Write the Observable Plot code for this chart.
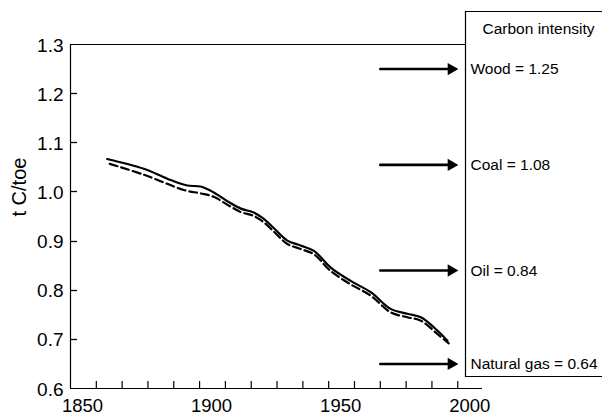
<!DOCTYPE html>
<html>
<head>
<meta charset="utf-8">
<script src="https://cdn.jsdelivr.net/npm/d3@7"></script>
<script src="https://cdn.jsdelivr.net/npm/@observablehq/plot@0.6"></script>
<style>
  html, body { margin: 0; padding: 0; background: #fff; }
  svg { font-family: "Liberation Sans", Arial, sans-serif; }
</style>
</head>
<body>
<div id="chart"></div>
<script>
// Solid series (upper curve)
const solidYears  = [1864.2, 1878.4, 1887.5, 1895.2, 1900.4, 1905.5, 1911.4, 1916.0, 1921.0, 1924.9, 1929.4, 1934.0, 1939.1, 1944.3, 1950.8, 1958.5, 1966.3, 1974.0, 1980.5, 1985.7, 1992.1, 1996.0];
const solidValues = [1.067, 1.047, 1.027, 1.013, 1.011, 0.999, 0.979, 0.966, 0.958, 0.945, 0.923, 0.901, 0.891, 0.880, 0.846, 0.819, 0.796, 0.762, 0.752, 0.745, 0.718, 0.697];
// Dashed series (lower curve)
const dashedYears  = [1865.2, 1878.4, 1893.9, 1900.4, 1905.5, 1911.4, 1916.0, 1921.0, 1924.9, 1929.4, 1934.0, 1939.1, 1944.3, 1950.8, 1958.5, 1966.3, 1974.0, 1980.5, 1985.7, 1992.1, 1996.5];
const dashedValues = [1.057, 1.035, 1.004, 0.997, 0.990, 0.972, 0.959, 0.951, 0.938, 0.916, 0.894, 0.884, 0.873, 0.839, 0.812, 0.789, 0.755, 0.745, 0.738, 0.711, 0.692];

// Carbon intensity annotations
const fuels       = ["Wood", "Coal", "Oil", "Natural gas"];
const intensities = [1.25, 1.08, 0.84, 0.64];
const arrowLevels = [1.25, 1.055, 0.84, 0.65];
const arrowFrom = 1970;
const arrowTo   = 2000;

// Axis ticks
const yTicks      = [0.6, 0.7, 0.8, 0.9, 1.0, 1.1, 1.2, 1.3];
const xTickLabels = [1850, 1900, 1950, 2000];
const xMinorTicks = [1860, 1870, 1880, 1890, 1900, 1910, 1920, 1930, 1940, 1950, 1960, 1970, 1980, 1990, 2000];

const solid  = solidYears.map((x, i) => ({x, y: solidValues[i]}));
const dashed = dashedYears.map((x, i) => ({x, y: dashedValues[i]}));
const notes  = fuels.map((f, i) => ({fuel: f, value: intensities[i], level: arrowLevels[i],
                                     label: `${f} = ${intensities[i].toFixed(2)}`}));

const W = 602, H = 416;
const mL = 70, mR = 137, mT = 44, mB = 28;

function legendBox(index, scales, values, dims) {
  const x0 = dims.width - dims.marginRight + 0.5;
  const x1 = dims.width + 2;
  const y0 = 11.5;
  const y1 = dims.height - dims.marginBottom - 11.5;
  const p = d3.create("svg:path")
    .attr("d", `M${x1},${y0}H${x0}V${y1}H${x1}`)
    .attr("fill", "none")
    .attr("stroke", "black")
    .attr("stroke-width", 1.2);
  return p.node();
}

// inward y-axis ticks drawn from the y scale
function yInwardTicks(index, scales, values, dims) {
  const g = d3.create("svg:g").attr("stroke", "black").attr("stroke-width", 1.3);
  const x0 = dims.marginLeft;
  for (const t of yTicks.slice(1, -1)) {
    const yy = Math.round(scales.y(t)) + 0.5;
    g.append("line").attr("x1", x0).attr("x2", x0 + 7).attr("y1", yy).attr("y2", yy);
  }
  return g.node();
}

const chart = Plot.plot({
  width: W,
  height: H,
  marginLeft: mL,
  marginRight: mR,
  marginTop: mT,
  marginBottom: mB,
  style: {fontFamily: '"Liberation Sans", Arial, sans-serif', background: "white", overflow: "visible"},
  x: {domain: [1850, 2003]},
  y: {domain: [0.6, 1.3]},
  marks: [
    // frame lines
    Plot.ruleX([1850], {stroke: "black", strokeWidth: 1.2}),
    Plot.ruleY([1.3], {stroke: "black", strokeWidth: 1.2}),
    Plot.ruleY([0.6], {stroke: "black", strokeWidth: 1.2, insetRight: -17}),
    legendBox,
    yInwardTicks,
    Plot.axisY({ticks: yTicks, tickSize: 0, tickPadding: 7, fontSize: 19, tickFormat: d3.format(".1f"), dy: 1, label: null}),
    Plot.axisX({ticks: xMinorTicks, tickSize: -7, text: null, strokeWidth: 1.2, label: null}),
    Plot.axisX({ticks: xTickLabels, tickSize: 0, tickPadding: 10, fontSize: 18.5, tickFormat: d3.format("d"), dx: 12, label: null}),
    // y label
    Plot.text(["t C/toe"], {frameAnchor: "left", rotate: -90, dx: -51, fontSize: 20, lineAnchor: "middle", fill: "black"}),
    // series
    Plot.line(solid, {x: "x", y: "y", stroke: "black", strokeWidth: 2.2, curve: "catmull-rom"}),
    Plot.line(dashed, {x: "x", y: "y", stroke: "black", strokeWidth: 2.2, strokeDasharray: "8,4", curve: "catmull-rom"}),
    // arrows
    Plot.arrow(notes, {x1: () => arrowFrom, x2: () => arrowTo, y1: "level", y2: "level",
                       stroke: "black", strokeWidth: 2.6, headLength: 0, insetEnd: 8}),
    Plot.dot(notes, {x: () => arrowTo, y: "level", symbol: "triangle", r: 4.6, rotate: 90,
                     fill: "black", stroke: "none", dx: -6.5}),
    // box texts
    Plot.text(["Carbon intensity"], {frameAnchor: "top-right", dx: 73, dy: -15.5, fontSize: 15.5,
                                      textAnchor: "middle", lineAnchor: "middle", fill: "black"}),
    Plot.text(notes, {frameAnchor: "right", y: "level", text: "label", dx: 5, fontSize: 15.5,
                      textAnchor: "start", lineAnchor: "middle", fill: "black"})
  ]
});

document.getElementById("chart").appendChild(chart);
</script>
</body>
</html>
